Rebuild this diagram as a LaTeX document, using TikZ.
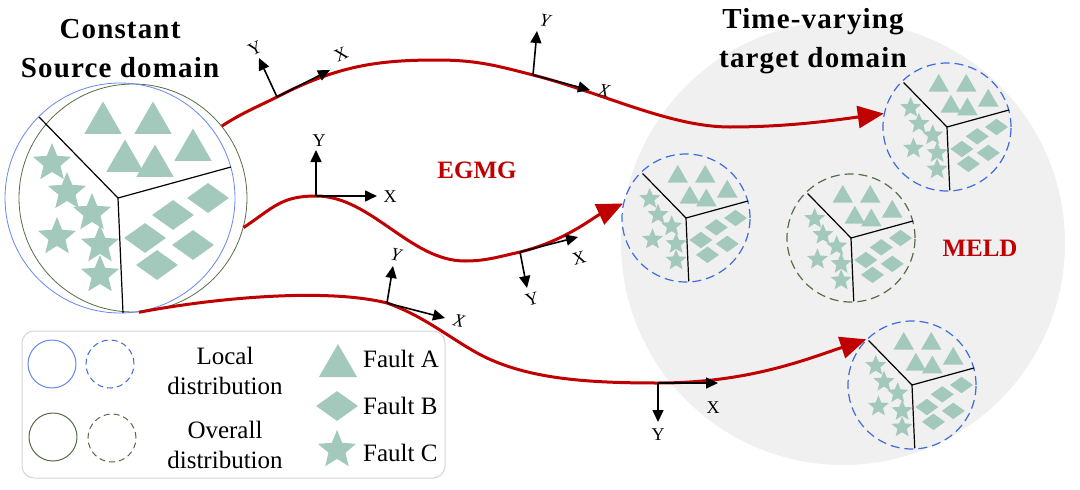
\documentclass[tikz,border=0pt]{standalone}
\usepackage{fontspec}
\setmainfont{Liberation Serif}
\newfontfamily\titlefont{Liberation Serif}[LetterSpace=4]
\usetikzlibrary{arrows.meta,shapes.geometric}

\definecolor{faultgreen}{HTML}{A3C9BC}
\definecolor{pathred}{HTML}{C00000}
\definecolor{localblue}{HTML}{6688EE}
\definecolor{dashblue}{HTML}{3D6BE0}
\definecolor{overallgreen}{HTML}{566E45}
\definecolor{bggray}{HTML}{F0F0F0}
\definecolor{legendgray}{HTML}{D6D6D6}

\tikzset{
  fault/.style={fill=faultgreen, draw=none, inner sep=0pt, transform shape},
  tri/.style={fault, regular polygon, regular polygon sides=3, minimum size=43pt},
  dia/.style={fault, diamond, minimum width=42pt, minimum height=30pt},
  sta/.style={fault, star, star points=5, star point ratio=2.25, minimum size=40pt},
  part/.style={draw=black, line width=1.2pt},
  faults/.pic={
    \draw[part] (0,0) -- (-79,-81) (0,0) -- (113,-31) (0,0) -- (5,115);
    % fault A
    \foreach \x/\y [count=\i] in {-15/-75, 35/-75, 75/-48, 7/-37, 37/-32}
      \node[tri] (-a\i) at (\x,\y) {};
    % fault B
    \foreach \x/\y [count=\i] in {90/0, 55/17, 27/40, 75/47, 39/67}
      \node[dia] (-b\i) at (\x,\y) {};
    % fault C
    \foreach \x/\y [count=\i] in {-66/-35, -51/-6, -26/15, -61/39, -18/47, -18/77}
      \node[sta] (-c\i) at (\x,\y) {};
  }
}

\begin{document}
\begin{tikzpicture}[x=1pt, y=-1pt, line join=round,
  redpath/.style={pathred, line width=3pt, -{Triangle[length=26pt,width=22pt]}},
  axarrow/.style={line width=1.6pt, -{Triangle[length=12pt,width=11pt]}},
  axlabel/.style={font=\fontsize{18}{20}\selectfont, inner sep=0pt},
  tcirc/.style={circle, minimum size=128pt, line width=1.2pt, dash pattern=on 9pt off 5pt},
  lcirc/.style={circle, minimum size=48pt, line width=1pt},
  ldash/.style={dash pattern=on 6pt off 4pt},
  title/.style={align=center, font=\titlefont\fontsize{29}{39}\selectfont\bfseries},
  redlabel/.style={text=pathred, font=\fontsize{25}{30}\selectfont\bfseries},
  legtext/.style={align=center, font=\fontsize{25}{30}\selectfont},
  faulttext/.style={anchor=base west, inner sep=0pt, font=\fontsize{25}{30}\selectfont}]

\useasboundingbox (0,0) rectangle (1080,490);

% target domain
\node[circle, fill=bggray, minimum size=444pt] (tgt) at (843,243) {};

% source domain
\node[circle, draw=overallgreen, line width=0.8pt, minimum size=228pt] (src) at (133,198) {};
\node[circle, draw=localblue, line width=0.8pt, minimum size=230pt] (srcl) at (120,198) {};
\pic (s) at (118,198) {faults};

\node[tcirc, draw=dashblue] (t1) at (947,127) {};
\node[tcirc, draw=dashblue] (t2) at (686,218) {};
\node[tcirc, draw=overallgreen] (t3) at (851,238) {};
\node[tcirc, draw=dashblue] (t4) at (912,385) {};
\pic[scale=0.55] (p1) at (t1) {faults};
\pic[scale=0.55] (p2) at (t2) {faults};
\pic[scale=0.55] (p3) at (t3) {faults};
\pic[scale=0.55] (p4) at (t4) {faults};

\node[title] (srct) at (120,49) {Constant\\Source domain};
\node[title] (tgtt) at (813,41) {Time-varying\\target domain};
\node[redlabel] (egmg) at (477,170) {EGMG};
\node[redlabel] (meld) at (980,248) {MELD};

% frames along the paths
\coordinate (o1) at (277,97);  \coordinate (x1) at (330,70);  \coordinate (y1) at (259,58);
\coordinate (o2) at (316,196); \coordinate (x2) at (377,196); \coordinate (y2) at (316,150);
\coordinate (o3) at (533,75);  \coordinate (x3) at (590,90);  \coordinate (y3) at (537,31);
\coordinate (o4) at (520,252); \coordinate (x4) at (578,237); \coordinate (y4) at (527,288);
\coordinate (o5) at (387,303); \coordinate (x5) at (445,318); \coordinate (y5) at (393,266);
\coordinate (o6) at (658,383); \coordinate (x6) at (718,383); \coordinate (y6) at (658,422);
\coordinate (c1) at (437,60);
\coordinate (c1b) at (730,127);
\coordinate (c2) at (465,261);
\coordinate (c3) at (487,358);

\draw[redpath] (src.39) .. controls +(20,-13) and +(-20,10) .. (o1)
  .. controls +(60,-31) and +(-60,0) .. (c1)
  .. controls +(40,0) and +(-35,-9) .. (o3)
  .. controls +(70,18) and +(-60,0) .. (c1b)
  .. controls +(60,0) and +(-45,6) .. (t1.168);
\draw[redpath] (src.-15) .. controls +(30,-20) and +(-35,0) .. (o2)
  .. controls +(55,0) and +(-55,0) .. (c2)
  .. controls +(20,0) and +(-22,5) .. (o4)
  .. controls +(45,-11) and +(-30,14) .. (t2.167);
\draw[redpath] (src.-87) .. controls +(80,-15) and +(-60,-15) .. (o5)
  .. controls +(40,14) and +(-30,-14) .. (c3)
  .. controls +(45,21) and +(-70,0) .. (o6)
  .. controls +(90,0) and +(-60,20) .. (t4.135);

\foreach \f in {1,...,6}{
  \draw[axarrow] (o\f) -- (x\f);
  \draw[axarrow] (o\f) -- (y\f);
}
\node[axlabel, rotate=25] (lx1) at (341,54) {X};
\node[axlabel, rotate=25] (ly1) at (255,48) {Y};
\node[axlabel] (lx2) at (390,197) {X};
\node[axlabel] (ly2) at (319,141) {Y};
\node[axlabel, rotate=-10, font=\fontsize{18}{20}\selectfont\itshape] (lx3) at (604,91) {X};
\node[axlabel, rotate=-10, font=\fontsize{18}{20}\selectfont\itshape] (ly3) at (545,21) {Y};
\node[axlabel, rotate=15] (lx4) at (579,258) {X};
\node[axlabel, rotate=15] (ly4) at (532,299) {Y};
\node[axlabel, rotate=-12, font=\fontsize{18}{20}\selectfont\itshape] (lx5) at (459,321) {X};
\node[axlabel, rotate=-12, font=\fontsize{18}{20}\selectfont\itshape] (ly5) at (396,255) {Y};
\node[axlabel] (lx6) at (713,408) {X};
\node[axlabel] (ly6) at (658,435) {Y};

% legend
\node[draw=legendgray, fill=white, rounded corners=12pt, line width=1pt,
  minimum width=423pt, minimum height=147pt] (leg) at (233.5,404.5) {};
\node[lcirc, draw=localblue] (lg1) at (52,364) {};
\node[lcirc, draw=dashblue, ldash] (lg2) at (110,364) {};
\node[lcirc, draw=overallgreen] (lg3) at (53,437) {};
\node[lcirc, draw=overallgreen, ldash] (lg4) at (112,438) {};
\node[legtext] (loc) at (225,371) {Local\\distribution};
\node[legtext] (ovr) at (225,445) {Overall\\distribution};
\node[tri, minimum size=44pt] (lga) at (338,366) {};
\node[dia] (lgb) at (337,406) {};
\node[sta] (lgc) at (337,450) {};
\node[faulttext] (fa) at (363,367) {Fault A};
\node[faulttext] (fb) at (363,414) {Fault B};
\node[faulttext] (fc) at (363,461) {Fault C};
\end{tikzpicture}
\end{document}
